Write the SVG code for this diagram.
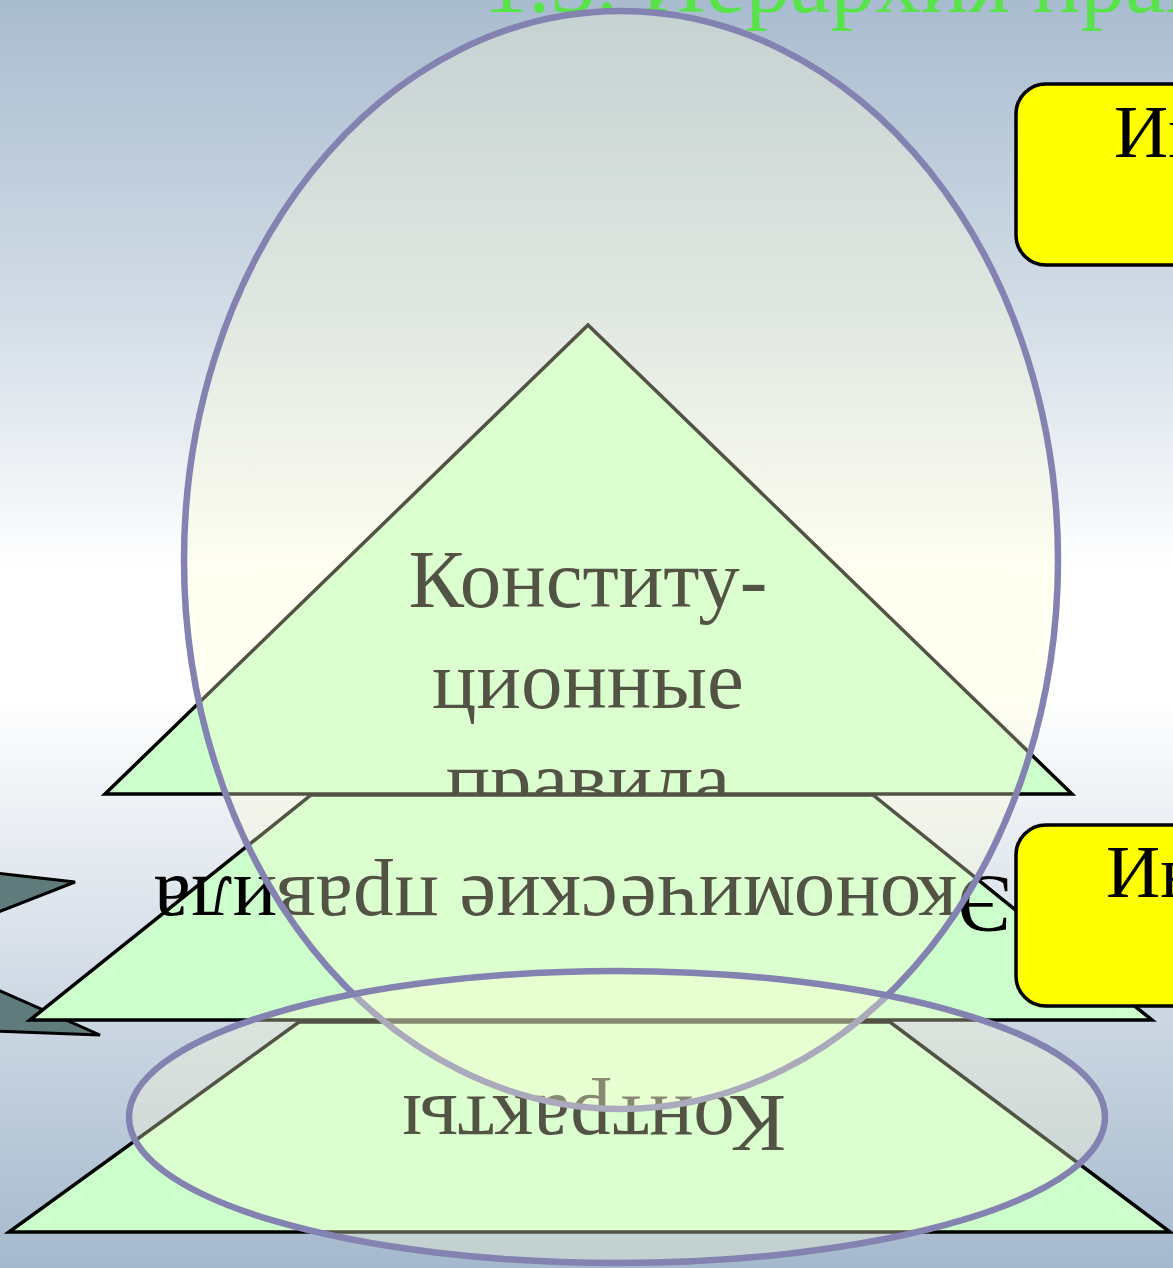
<svg xmlns="http://www.w3.org/2000/svg" width="1173" height="1268" viewBox="0 0 1173 1268">
  <defs>
    <linearGradient id="bg" x1="0" y1="0" x2="0" y2="1">
      <stop offset="0" stop-color="#a9bccf"/>
      <stop offset="0.25" stop-color="#d3dde7"/>
      <stop offset="0.45" stop-color="#ffffff"/>
      <stop offset="0.55" stop-color="#ffffff"/>
      <stop offset="0.72" stop-color="#dce3eb"/>
      <stop offset="1" stop-color="#a5b9cd"/>
    </linearGradient>
    <style>
      .serif { font-family: "Liberation Serif", "Times New Roman", serif; }
      .lvl { fill: #ccffcc; stroke: #000000; stroke-width: 3.5; stroke-linejoin: miter; }
      .lbl { fill: #000000; font-size: 83px; text-anchor: middle; }
      .arrow { fill: #607b7b; stroke: #000000; stroke-width: 3; stroke-linejoin: miter; }
      .box { fill: #ffff00; stroke: #000000; stroke-width: 3.5; }
      .boxtxt { fill: #000000; font-size: 75px; }
      .oval { fill: #ffffd8; fill-opacity: 0.32; stroke: #8482b0; stroke-width: 6.5; }
    </style>
  </defs>

  <rect id="background" x="0" y="0" width="1173" height="1268" fill="url(#bg)"/>

  <g id="title">
    <text class="serif" x="483" y="12" font-size="90" fill="#59e34a">1.3. Иерархия правил</text>
  </g>

  <g id="connectors">
    <polygon id="arrow-upper" class="arrow" points="-4,873 75,882 -4,913"/>
    <polygon id="arrow-lower" class="arrow" points="-4,989 100,1035 -4,1031"/>
  </g>

  <g id="node-contracts">
    <polygon class="lvl" points="299,1022 890,1022 1170,1232 9,1232"/>
    <text class="serif lbl" x="594" y="1096" font-size="87" transform="rotate(180 594 1096)">Контракты</text>
  </g>

  <g id="node-constitutional">
    <polygon class="lvl" points="588,325 1072,794 105,794"/>
    <text class="serif lbl" x="588" y="607">Конститу-</text>
    <text class="serif lbl" x="588" y="708">ционные</text>
    <text class="serif lbl" x="588" y="808">правила</text>
  </g>

  <g id="node-economic">
    <polygon class="lvl" points="311,795 873,795 1152,1020 30,1020"/>
    <text class="serif lbl" x="583" y="877" font-size="86" transform="rotate(180 583 877)">Экономические правила</text>
  </g>

  <g id="node-box-top">
    <rect class="box" x="1016" y="84" width="200" height="181" rx="30" ry="30"/>
    <text class="serif boxtxt" x="1114" y="157">Ин</text>
  </g>

  <g id="node-box-bottom">
    <rect class="box" x="1016" y="825" width="200" height="181" rx="30" ry="30"/>
    <text class="serif boxtxt" x="1106" y="897">Ин</text>
  </g>

  <g id="node-oval-large">
    <ellipse class="oval" cx="621" cy="560" rx="437" ry="549"/>
  </g>

  <g id="node-oval-bottom">
    <ellipse class="oval" cx="617" cy="1117" rx="488" ry="146"/>
  </g>
</svg>
